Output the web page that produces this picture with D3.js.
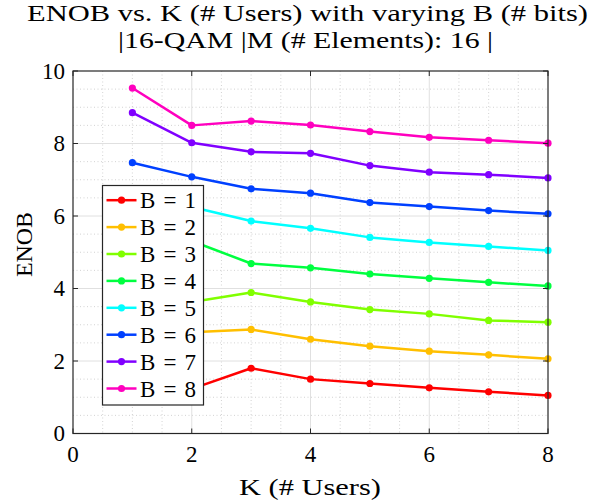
<!DOCTYPE html>
<html>
<head>
<meta charset="utf-8">
<script src="https://cdn.jsdelivr.net/npm/d3@7"></script>
<style>
  body { margin: 0; background: #fff; }
  text { font-family: "Liberation Serif", "Times New Roman", serif; fill: #000; }
</style>
</head>
<body>
<script>
// datos
var usuarios = [1, 2, 3, 4, 5, 6, 7, 8];
var bits = [1, 2, 3, 4, 5, 6, 7, 8];
var enobB1 = [1.05, 1.23, 1.80, 1.50, 1.38, 1.26, 1.15, 1.05];
var enobB2 = [2.45, 2.79, 2.87, 2.60, 2.41, 2.27, 2.17, 2.06];
var enobB3 = [3.45, 3.63, 3.89, 3.63, 3.42, 3.30, 3.12, 3.07];
var enobB4 = [5.65, 5.31, 4.69, 4.57, 4.40, 4.28, 4.17, 4.07];
var enobB5 = [6.65, 6.25, 5.86, 5.66, 5.41, 5.27, 5.16, 5.05];
var enobB6 = [7.47, 7.08, 6.75, 6.63, 6.37, 6.26, 6.15, 6.06];
var enobB7 = [8.85, 8.02, 7.77, 7.73, 7.39, 7.21, 7.14, 7.05];
var enobB8 = [9.53, 8.50, 8.62, 8.51, 8.33, 8.17, 8.09, 8.01];
var xTicks = [0, 2, 4, 6, 8];
var yTicks = [0, 2, 4, 6, 8, 10];

var series = [enobB1, enobB2, enobB3, enobB4, enobB5, enobB6, enobB7, enobB8];
// colormap hsv(8)
var colores = ["#ff0000", "#ffbf00", "#80ff00", "#00ff40", "#00ffff", "#0040ff", "#8000ff", "#ff00bf"];

var width = 595, height = 503;
var mIzq = 73, mDer = 548, mSup = 71, mInf = 433.5;

var svg = d3.select("body").append("svg")
    .attr("width", width)
    .attr("height", height);

var xScale = d3.scaleLinear().domain([0, 8]).range([mIzq, mDer]);
var yScale = d3.scaleLinear().domain([0, 10]).range([mInf, mSup]);

// rejilla menor (punteada)
var g = svg.append("g");
d3.range(0.5, 8, 0.5).filter(d => d % 2 != 0).forEach(function(v) {
  g.append("line")
    .attr("x1", xScale(v)).attr("x2", xScale(v))
    .attr("y1", mSup).attr("y2", mInf)
    .attr("stroke", "#c8c8c8").attr("stroke-width", 0.8)
    .attr("stroke-dasharray", "1,2.5");
});
d3.range(0.5, 10, 0.5).filter(d => d % 2 != 0).forEach(function(v) {
  g.append("line")
    .attr("x1", mIzq).attr("x2", mDer)
    .attr("y1", yScale(v)).attr("y2", yScale(v))
    .attr("stroke", "#c8c8c8").attr("stroke-width", 0.8)
    .attr("stroke-dasharray", "1,2.5");
});
// rejilla mayor
xTicks.slice(1, -1).forEach(function(v) {
  g.append("line")
    .attr("x1", xScale(v)).attr("x2", xScale(v))
    .attr("y1", mSup).attr("y2", mInf)
    .attr("stroke", "#e0e0e0").attr("stroke-width", 1);
});
yTicks.slice(1, -1).forEach(function(v) {
  g.append("line")
    .attr("x1", mIzq).attr("x2", mDer)
    .attr("y1", yScale(v)).attr("y2", yScale(v))
    .attr("stroke", "#e0e0e0").attr("stroke-width", 1);
});

// lineas
var line = d3.line()
    .x((d, i) => xScale(usuarios[i]))
    .y(d => yScale(d));

series.forEach(function(s, k) {
  svg.append("path")
    .datum(s)
    .attr("d", line)
    .attr("fill", "none")
    .attr("stroke", colores[k])
    .attr("stroke-width", 2.5)
    .attr("stroke-linejoin", "round");
  svg.selectAll(null)
    .data(s)
    .enter()
    .append("circle")
    .attr("cx", (d, i) => xScale(usuarios[i]))
    .attr("cy", d => yScale(d))
    .attr("r", 3.6)
    .attr("fill", colores[k]);
});

// ejes (caja)
var ejes = svg.append("g");
ejes.append("rect")
  .attr("x", mIzq).attr("y", mSup)
  .attr("width", mDer - mIzq).attr("height", mInf - mSup)
  .attr("fill", "none").attr("stroke", "#262626").attr("stroke-width", 1.2);

xTicks.forEach(function(v) {
  ejes.append("line").attr("x1", xScale(v)).attr("x2", xScale(v))
    .attr("y1", mInf).attr("y2", mInf - 5).attr("stroke", "#262626");
  ejes.append("line").attr("x1", xScale(v)).attr("x2", xScale(v))
    .attr("y1", mSup).attr("y2", mSup + 5).attr("stroke", "#262626");
  ejes.append("text")
    .attr("x", xScale(v)).attr("y", mInf + 28)
    .attr("text-anchor", "middle")
    .attr("font-size", 23)
    .text(v);
});
yTicks.forEach(function(v) {
  ejes.append("line").attr("x1", mIzq).attr("x2", mIzq + 5)
    .attr("y1", yScale(v)).attr("y2", yScale(v)).attr("stroke", "#262626");
  ejes.append("line").attr("x1", mDer).attr("x2", mDer - 5)
    .attr("y1", yScale(v)).attr("y2", yScale(v)).attr("stroke", "#262626");
  ejes.append("text")
    .attr("x", mIzq - 8).attr("y", yScale(v) + 7.5)
    .attr("text-anchor", "end")
    .attr("font-size", 23)
    .text(v);
});

// etiquetas
svg.append("text")
  .attr("x", 239).attr("y", 495)
  .attr("textLength", 142).attr("lengthAdjust", "spacingAndGlyphs")
  .attr("font-size", 24)
  .text("K (# Users)");

svg.append("text")
  .attr("transform", "translate(32,277) rotate(-90)")
  .attr("textLength", 65).attr("lengthAdjust", "spacingAndGlyphs")
  .attr("font-size", 24)
  .text("ENOB");

// titulo
svg.append("text")
  .attr("x", 27).attr("y", 21)
  .attr("textLength", 561).attr("lengthAdjust", "spacingAndGlyphs")
  .attr("font-size", 24)
  .text("ENOB vs. K (# Users) with varying B (# bits)");
svg.append("text")
  .attr("x", 118).attr("y", 48)
  .attr("textLength", 375).attr("lengthAdjust", "spacingAndGlyphs")
  .attr("font-size", 24)
  .text("|16-QAM |M (# Elements): 16 |");

// leyenda
var leyenda = svg.append("g");
leyenda.append("rect")
  .attr("x", 102.5).attr("y", 185.5)
  .attr("width", 101).attr("height", 219.5)
  .attr("fill", "#fff").attr("stroke", "#262626").attr("stroke-width", 1.2);

bits.forEach(function(b, k) {
  var y = 200.2 + k * 26.9;
  leyenda.append("line")
    .attr("x1", 106.5).attr("x2", 136.5)
    .attr("y1", y).attr("y2", y)
    .attr("stroke", colores[k]).attr("stroke-width", 2.5);
  leyenda.append("circle")
    .attr("cx", 121.5).attr("cy", y).attr("r", 3.6)
    .attr("fill", colores[k]);
  leyenda.append("text")
    .attr("x", 140).attr("y", y + 8)
    .attr("textLength", 56).attr("lengthAdjust", "spacing")
    .attr("font-size", 23)
    .text("B = " + b);
});
</script>
</body>
</html>
